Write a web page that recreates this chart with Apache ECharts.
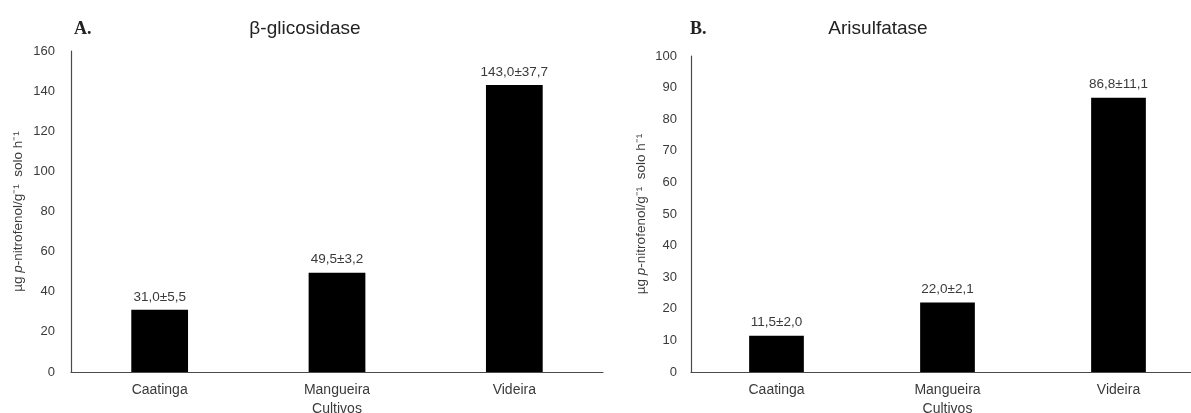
<!DOCTYPE html>
<html><head><meta charset="utf-8">
<script src="https://cdn.jsdelivr.net/npm/echarts@6/dist/echarts.min.js"></script>
<style>html,body{margin:0;padding:0;background:#fff}#c{width:1191px;height:413px}</style>
</head><body><div id="c"></div>
<script>
const categories = ['Caatinga', 'Mangueira', 'Videira'];
const glicValues = [31.0, 49.5, 143.0];
const glicSD = [5.5, 3.2, 37.7];
const arisValues = [11.5, 22.0, 86.8];
const arisSD = [2.0, 2.1, 11.1];
const glicTicks = { min: 0, max: 160, interval: 20 };
const arisTicks = { min: 0, max: 100, interval: 10 };

const fmt = v => v.toFixed(1).replace('.', ',');
const txt = '#3a3a3a';
const axisColor = '#4a4a4a';
const ff = '"Liberation Sans", Arial, sans-serif';

function yName() {
  return '{n|µg }{i|p}{n|-nitrofenol/g⁻¹  solo h⁻¹}';
}
function makeX(idx) {
  return {
    type: 'category', gridIndex: idx, data: categories,
    axisLine: { lineStyle: { color: axisColor, width: 1.2 } },
    axisTick: { show: false },
    axisLabel: { color: txt, fontSize: 14, fontFamily: ff, margin: 11 },
    name: 'Cultivos', nameLocation: 'middle', nameGap: 27,
    nameTextStyle: { color: txt, fontSize: 14, fontFamily: ff }
  };
}
function makeY(idx, t, gap) {
  return {
    type: 'value', gridIndex: idx, min: t.min, max: t.max, interval: t.interval,
    axisLine: { show: true, lineStyle: { color: axisColor, width: 1.2 } },
    axisTick: { show: false },
    splitLine: { show: false },
    axisLabel: { color: txt, fontSize: 13, fontFamily: ff, margin: idx === 0 ? 16 : 14 },
    name: yName(), nameLocation: 'middle', nameRotate: 90, nameGap: gap,
    nameTextStyle: {
      rich: {
        n: { color: txt, fontSize: 13.5, fontFamily: ff },
        i: { color: txt, fontSize: 13.5, fontFamily: ff, fontStyle: 'italic' }
      }
    }
  };
}
function makeSeries(idx, vals, sds) {
  return {
    type: 'bar', xAxisIndex: idx, yAxisIndex: idx, data: vals, barWidth: '32%',
    itemStyle: { color: '#000' },
    label: {
      show: true, position: 'top', distance: 6, color: txt, fontSize: 13.5, fontFamily: ff,
      formatter: p => fmt(vals[p.dataIndex]) + '±' + fmt(sds[p.dataIndex])
    }
  };
}

const chart = echarts.init(document.getElementById('c'), null, { renderer: 'canvas' });
const titleStyle = { color: '#222', fontSize: 19, fontWeight: 'normal', fontFamily: ff };
const letterStyle = { color: '#222', fontSize: 18, fontWeight: 'bold', fontFamily: '"Liberation Serif", "Times New Roman", serif' };
chart.setOption({
  animation: false,
  backgroundColor: '#fff',
  title: [
    { text: 'β-glicosidase', left: 305, top: 19, padding: 0, textAlign: 'center', textStyle: titleStyle },
    { text: 'Arisulfatase', left: 878, top: 19, padding: 0, textAlign: 'center', textStyle: titleStyle },
    { text: 'A.', left: 74, top: 20, padding: 0, textStyle: letterStyle },
    { text: 'B.', left: 690, top: 20, padding: 0, textStyle: letterStyle }
  ],
  grid: [
    { left: 71, top: 51, width: 532, height: 321, outerBoundsMode: 'none', containLabel: false },
    { left: 691, top: 56, width: 513, height: 316, outerBoundsMode: 'none', containLabel: false }
  ],
  xAxis: [makeX(0), makeX(1)],
  yAxis: [makeY(0, glicTicks, 46), makeY(1, arisTicks, 43)],
  series: [makeSeries(0, glicValues, glicSD), makeSeries(1, arisValues, arisSD)]
});
</script>
</body></html>
